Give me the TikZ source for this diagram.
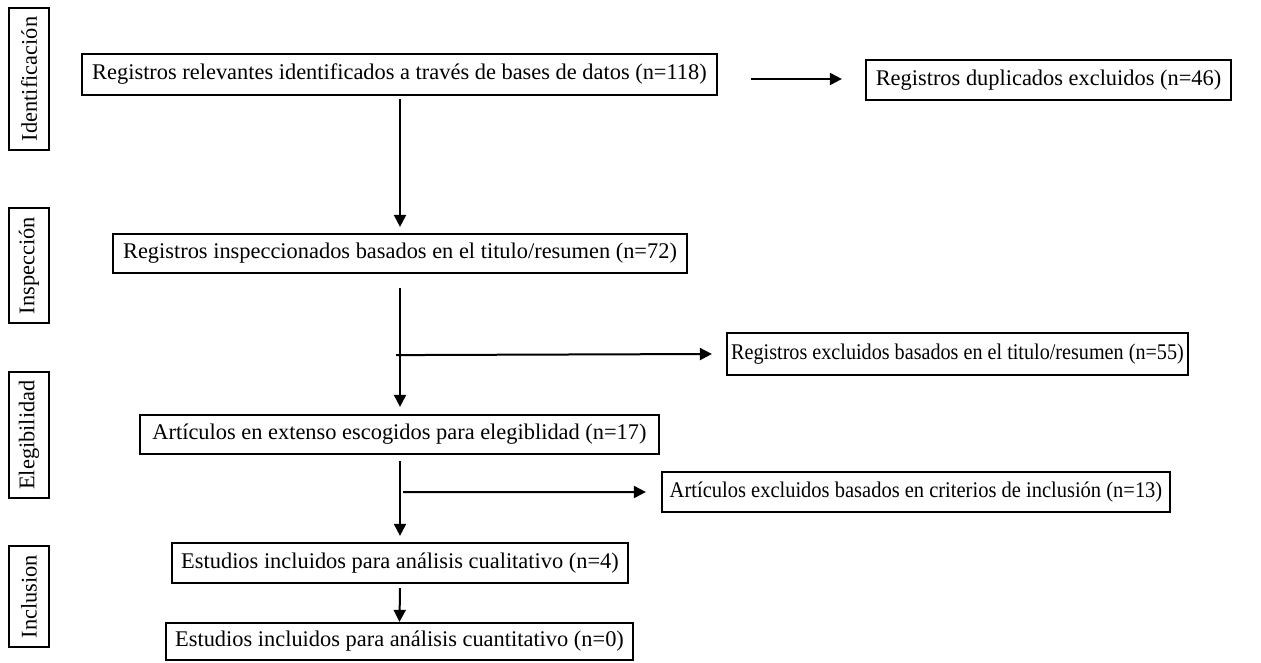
\documentclass[tikz,border=0pt]{standalone}
\usepackage{fontspec}
\usepackage{graphicx}
\setmainfont{Liberation Serif}
\usetikzlibrary{arrows.meta,calc}
\tikzset{
  box/.style={draw, line width=2.2pt, inner sep=0pt, align=center,
    font=\fontsize{22.4}{26}\selectfont},
  side/.style={box, rotate=90, minimum height=40pt},
  arr/.style={line width=2pt, -{Triangle[length=12pt,width=12pt]}}
}
\begin{document}
\begin{tikzpicture}[x=1pt,y=-1pt]
\useasboundingbox (0,0) rectangle (1261,663);
% side labels
\node[side, minimum width=142pt] (s1) at (29,79) {Identificación};
\node[side, minimum width=115pt] (s2) at (29,265.5) {Inspección};
\node[side, minimum width=126pt] (s3) at (29,435) {Elegibilidad};
\node[side, minimum width=101pt] (s4) at (29,596.5) {Inclusion};
% main boxes
\node[box, minimum width=635pt, minimum height=41pt] (b1) at (399.5,74.5) {Registros relevantes identificados a través de bases de datos (n=118)};
\node[box, minimum width=365pt, minimum height=40pt] (r1) at (1048.5,80) {Registros duplicados excluidos (n=46)};
\node[box, minimum width=574pt, minimum height=39pt] (b2) at (400,253.5) {Registros inspeccionados basados en el titulo/resumen (n=72)};
\node[box, minimum width=461pt, minimum height=42pt] (r2) at (957.5,354) {\scalebox{0.9}[1]{Registros excluidos basados en el titulo/resumen (n=55)}};
\node[box, minimum width=519pt, minimum height=39pt] (b3) at (399.5,434.5) {Artículos en extenso escogidos para elegiblidad (n=17)};
\node[box, minimum width=508pt, minimum height=40pt] (r3) at (916,492) {\scalebox{0.915}[1]{Artículos excluidos basados en criterios de inclusión (n=13)}};
\node[box, minimum width=456pt, minimum height=40pt] (b4) at (400,563) {Estudios incluidos para análisis cualitativo (n=4)};
\node[box, minimum width=467pt, minimum height=37pt] (b5) at (399.5,641.5) {Estudios incluidos para análisis cuantitativo (n=0)};
% connectors
\draw[arr] ($(b1.south)+(0.5,3)$) -- ($(b2.north)+(0,-6)$);
\draw[arr] ($(b1.east |- r1.west)+(33,-1)$) -- ($(r1.west)+(-23,-1)$);
\draw[arr] ($(b2.south)+(0,14)$) -- ($(b3.north)+(0.5,-7)$);
\coordinate (j2) at ($(b2.south)+(-4,81)$);
\draw[arr] (j2) -- ($(r2.west)+(-14,0)$);
\draw[arr] ($(b3.south)+(0.5,6)$) -- ($(b4.north)+(0,-6)$);
\coordinate (j3) at ($(b3.south)+(3.5,37)$);
\draw[arr] (j3) -- ($(r3.west)+(-15,0)$);
\draw[arr] ($(b4.south)+(0,4)$) -- (b5.north);
\end{tikzpicture}
\end{document}
